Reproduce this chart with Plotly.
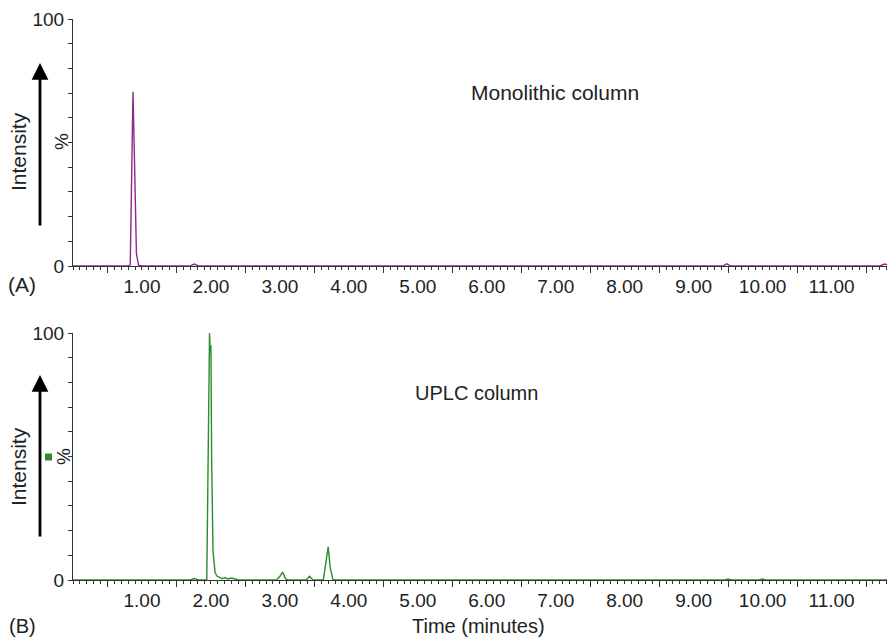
import plotly.graph_objects as go
from plotly.subplots import make_subplots

# ---- data ----
time_a = [0.00, 0.70, 0.80, 0.83, 0.85, 0.87, 0.89, 0.92, 0.95, 1.00,
          1.70, 1.76, 1.82, 2.50, 9.42, 9.48, 9.54, 11.70, 11.77, 11.84, 11.92]
int_a = [0.0, 0.2, 0.0, 0.5, 40.0, 70.5, 45.0, 5.0, 0.3, 0.0,
         0.0, 0.8, 0.0, 0.0, 0.0, 0.9, 0.0, 0.0, 0.8, 0.2, 0.3]

time_b = [0.00, 1.70, 1.76, 1.82, 1.94, 1.96, 1.98, 1.99, 2.00, 2.01, 2.03, 2.06, 2.09,
          2.12, 2.16, 2.20, 2.25, 2.30, 2.40, 2.95, 3.00, 3.04, 3.08, 3.12,
          3.38, 3.43, 3.48, 3.63, 3.67, 3.70, 3.73, 3.77, 4.00,
          9.45, 9.50, 9.55, 9.95, 10.00, 10.05, 11.92]
int_b = [0.0, 0.0, 0.6, 0.0, 0.0, 55.0, 100.0, 92.0, 95.0, 50.0, 12.0, 3.0, 1.5,
         1.2, 0.5, 1.0, 0.4, 0.8, 0.0, 0.0, 1.5, 3.2, 0.5, 0.0,
         0.0, 1.5, 0.0, 0.0, 7.0, 13.4, 5.0, 0.0, 0.0,
         0.0, 0.4, 0.0, 0.0, 0.4, 0.0, 0.0]

x_ticks = [1, 2, 3, 4, 5, 6, 7, 8, 9, 10, 11]
x_tick_text = ["1.00", "2.00", "3.00", "4.00", "5.00", "6.00", "7.00", "8.00", "9.00", "10.00", "11.00"]
x_half_ticks = [0.5, 1.5, 2.5, 3.5, 4.5, 5.5, 6.5, 7.5, 8.5, 9.5, 10.5, 11.5]
y_ticks = [0, 100]
y_tick_text = ["0", "100"]
x_range = [0, 11.92]

PURPLE = "#8e2a8e"
GREEN = "#2a8c2a"
FONT = "Liberation Sans, Arial, sans-serif"

# page body has an 8px margin; the figure is sized so the plot lands where the reference has it
OFF = 8
W, H = 895 - OFF, 640 - OFF
ML, MT = 73 - OFF, 19 - OFF
MB = H - (580 - OFF)
MR = 0
PW, PH = W - ML - MR, H - MT - MB


def px(x):
    return (x - OFF - ML) / PW


def py(y):
    return 1 - (y - OFF - MT) / PH


fig = make_subplots(rows=2, cols=1, vertical_spacing=0.0)

fig.add_trace(go.Scatter(x=time_a, y=int_a, mode="lines",
                         line=dict(color=PURPLE, width=1.4), showlegend=False), row=1, col=1)
fig.add_trace(go.Scatter(x=time_b, y=int_b, mode="lines",
                         line=dict(color=GREEN, width=1.4), showlegend=False), row=2, col=1)

top_dom = [1 - 247 / PH, 1.0]
bot_dom = [0.0, 247 / PH]

xcommon = dict(range=x_range, showgrid=False, zeroline=False, showline=True,
               linecolor="#333333", linewidth=1, ticks="outside", ticklen=3,
               tickcolor="#333333", tickvals=x_ticks, ticktext=x_tick_text,
               tickfont=dict(family=FONT, size=19, color="#222222"),
               minor=dict(dtick=0.1, tick0=0, ticks="outside", ticklen=3, tickcolor="#333333"),
               layer="below traces")
ycommon = dict(range=[0, 100], showgrid=False, zeroline=False, showline=True,
               linecolor="#333333", linewidth=1, ticks="outside", ticklen=4,
               tickcolor="#333333", tickvals=y_ticks, ticktext=y_tick_text,
               tickfont=dict(family=FONT, size=19, color="#222222"),
               minor=dict(dtick=10, tick0=0, ticks="outside", ticklen=4, tickcolor="#333333"),
               layer="below traces")

fig.update_layout(
    width=W, height=H, margin=dict(l=ML, r=MR, t=MT, b=MB),
    paper_bgcolor="white", plot_bgcolor="white",
    font=dict(family=FONT, size=19, color="#222222"),
    xaxis=dict(xcommon, domain=[0, 1]),
    yaxis=dict(ycommon, domain=top_dom),
    xaxis2=dict(xcommon, domain=[0, 1]),
    yaxis2=dict(ycommon, domain=bot_dom),
    xaxis3=dict(range=x_range, overlaying="x", anchor="y", side="bottom",
                tickvals=x_half_ticks, ticks="outside", ticklen=6, tickcolor="#333333",
                showticklabels=False, showgrid=False, zeroline=False, showline=False),
    xaxis4=dict(range=x_range, overlaying="x2", anchor="y2", side="bottom",
                tickvals=x_half_ticks, ticks="outside", ticklen=6, tickcolor="#333333",
                showticklabels=False, showgrid=False, zeroline=False, showline=False),
)
fig.add_trace(go.Scatter(x=[x_range[0]], y=[0], xaxis="x3", yaxis="y", mode="lines",
                         line=dict(width=0), showlegend=False, hoverinfo="skip"))
fig.add_trace(go.Scatter(x=[x_range[0]], y=[0], xaxis="x4", yaxis="y2", mode="lines",
                         line=dict(width=0), showlegend=False, hoverinfo="skip"))

ann = []


def text(x, y, s, size=21, angle=0, xanchor="center"):
    ann.append(dict(x=px(x), y=py(y), xref="paper", yref="paper", text=s, showarrow=False,
                    textangle=angle, xanchor=xanchor, yanchor="middle",
                    font=dict(family=FONT, size=size, color="#222222")))


text(555, 93, "Monolithic column")
text(476, 393, "UPLC column", size=20)
text(18, 152, "Intensity", angle=-90)
text(18, 467, "Intensity", angle=-90)
text(61, 142, "%", size=19, angle=-90)
text(63, 457, "%", size=19, angle=-90)
text(22, 284, "(A)")
text(22, 626, "(B)", size=20)
text(478, 626, "Time (minutes)", size=20)

for head, tail in [(63, 227), (375, 538)]:
    ann.append(dict(x=px(40), y=py(head), xref="paper", yref="paper",
                    ax=0, ay=tail - head, axref="pixel", ayref="pixel",
                    showarrow=True, arrowhead=2, arrowsize=1.2, arrowwidth=2.8,
                    arrowcolor="#000000", text=""))

fig.update_layout(annotations=ann)
fig.add_shape(type="rect", xref="paper", yref="paper",
              x0=px(45), x1=px(52), y0=py(460.5), y1=py(453.5),
              fillcolor=GREEN, line=dict(width=0))

fig.write_html("out.html")
